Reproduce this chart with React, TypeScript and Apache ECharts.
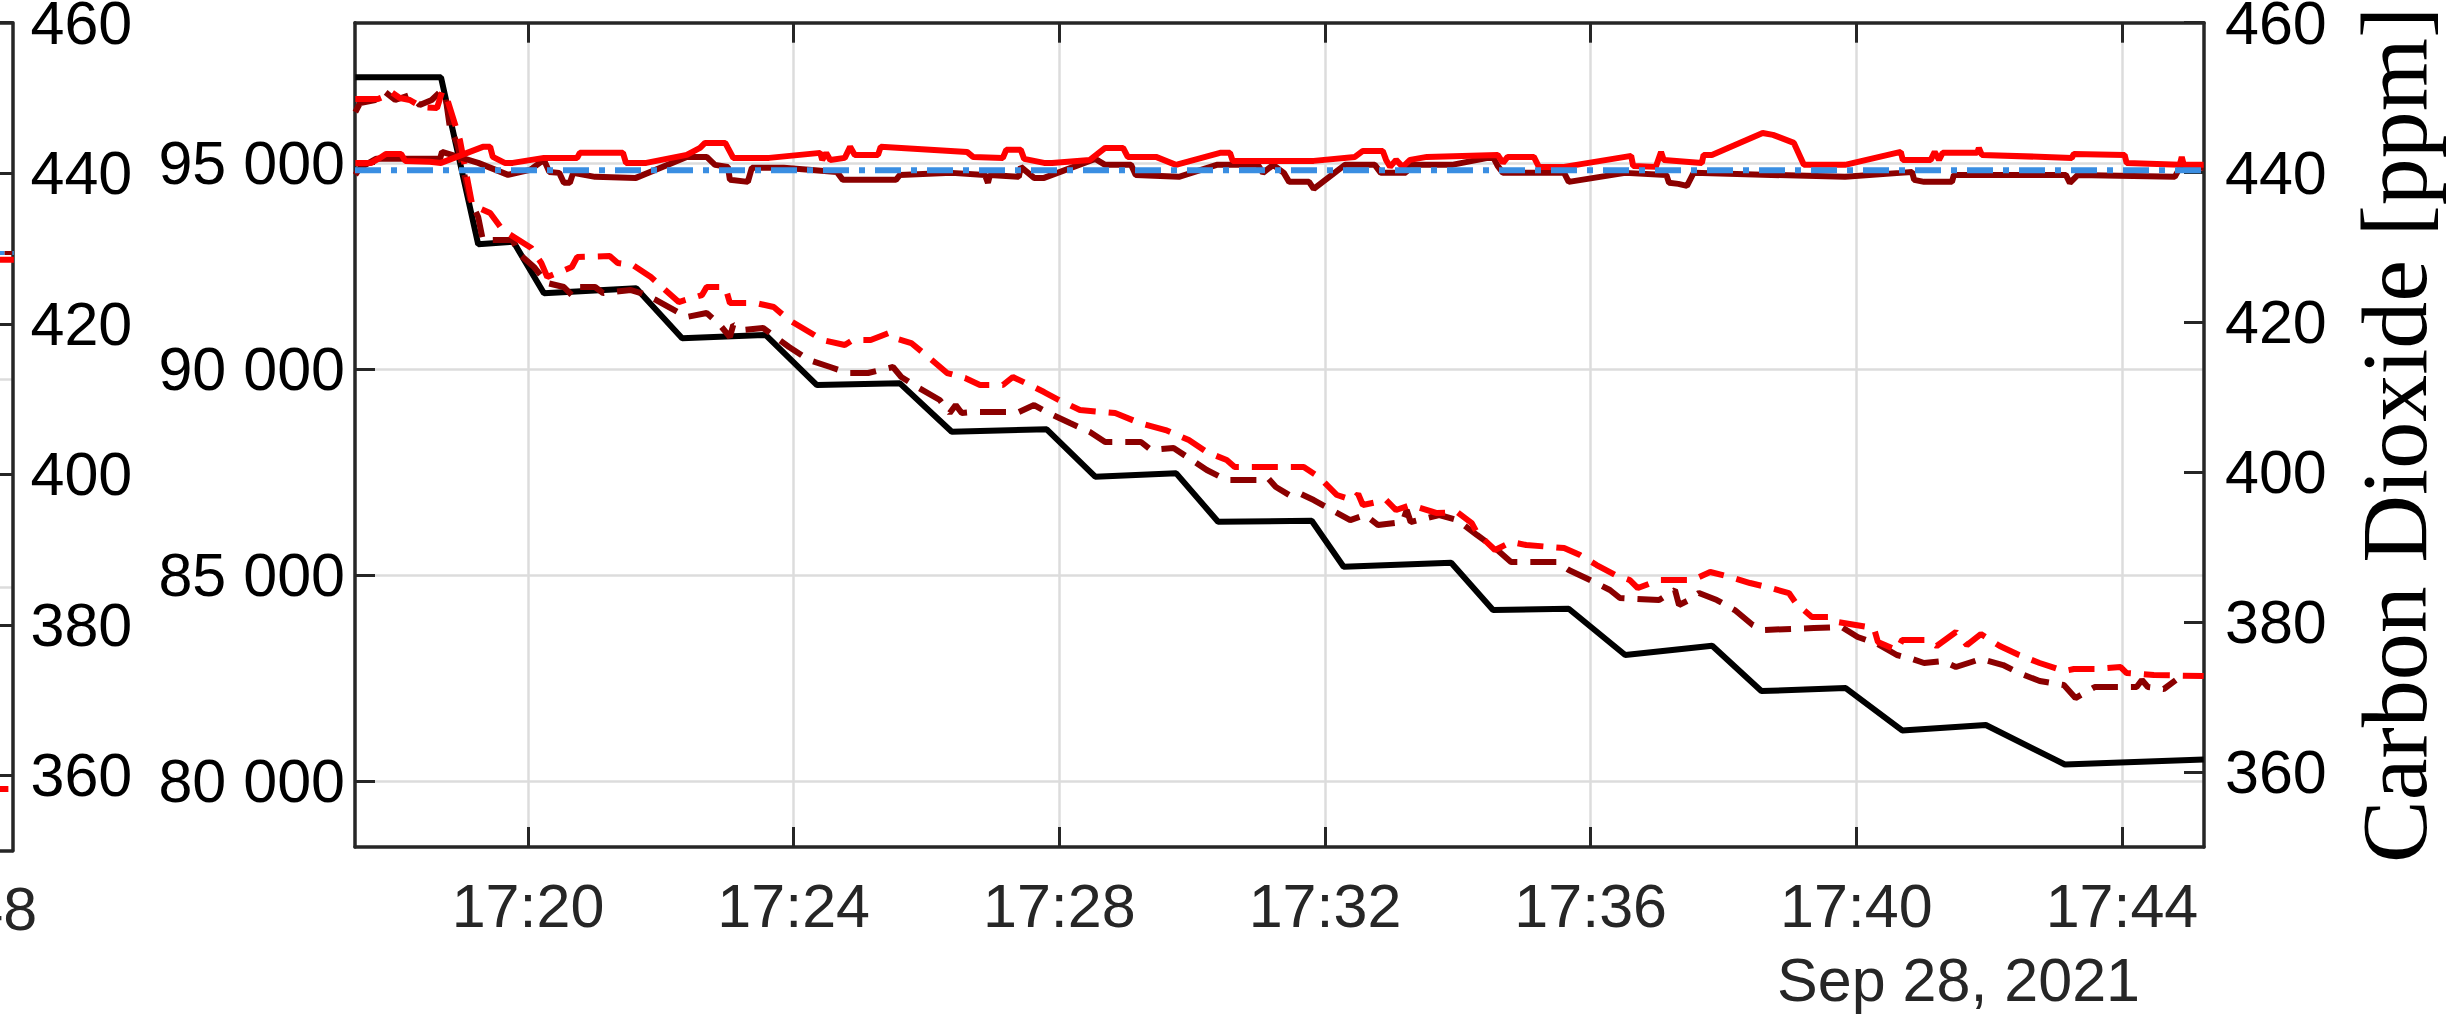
import React, { useEffect, useRef } from 'react';
import * as echarts from 'echarts';

// ---- axis ticks ----
const xTicks = [20, 24, 28, 32, 36, 40, 44]; // minutes after 17:00
const pressureTicks = [80000, 85000, 90000, 95000];
const co2Ticks = [360, 380, 400, 420, 440, 460];
const prevXTicks = [48];
const prevPressureTicks = [85000, 90000];
const dateLabel = 'Sep 28, 2021';
const co2Name = 'Carbon Dioxide [ppm]';

// ---- reference pressure (black solid) ----
const refTime = [17.40, 18.69, 19.25, 19.78, 20.24, 21.63, 22.32, 23.58, 24.35, 25.60, 26.38, 27.81, 28.54, 29.76, 30.39, 31.80, 32.28, 33.90, 34.53, 35.67, 36.52, 37.83, 38.57, 39.84, 40.69, 41.95, 43.14, 45.23];
const refPressure = [97074, 97074, 93023, 93086, 91834, 91955, 90742, 90822, 89609, 89650, 88476, 88534, 87384, 87466, 86292, 86316, 85200, 85297, 84150, 84181, 83058, 83283, 82184, 82257, 81228, 81359, 80403, 80522];

// ---- sensor A pressure (red dashed) ----
const aPTime = [17.40, 17.74, 17.85, 17.94, 18.07, 18.22, 18.40, 18.63, 18.705, 18.75, 18.975, 19.16, 19.43, 19.62, 20.05, 20.20, 20.29, 20.66, 20.74, 21.23, 21.35, 21.58, 21.85, 22.27, 22.62, 22.69, 22.97, 23.04, 23.43, 23.70, 23.93, 24.31, 24.43, 24.77, 24.89, 25.16, 25.43, 25.51, 25.77, 26.08, 26.31, 26.58, 26.805, 27.15, 27.30, 27.62, 27.77, 27.995, 28.31, 28.84, 29.21, 29.60, 29.95, 30.22, 30.52, 30.64, 31.68, 31.91, 32.18, 32.41, 32.50, 32.57, 32.92, 33.07, 33.29, 33.685, 33.99, 34.21, 34.29, 34.56, 34.80, 35.03, 35.60, 35.84, 36.09, 36.37, 36.59, 36.71, 37.03, 37.53, 37.80, 38.10, 38.40, 38.71, 38.985, 39.09, 39.33, 39.63, 39.72, 40.265, 40.325, 40.61, 40.69, 41.09, 41.21, 41.50, 41.665, 41.875, 42.16, 42.45, 42.76, 43.125, 43.275, 43.59, 43.98, 44.07, 44.48, 45.23];
const aPressure = [96548, 96548, 96621, 96718, 96572, 96524, 96354, 96330, 96718, 96718, 95553, 93976, 93782, 93370, 92933, 92569, 92229, 92472, 92714, 92739, 92569, 92520, 92229, 91623, 91792, 91987, 91987, 91598, 91598, 91501, 91186, 90822, 90701, 90579, 90701, 90701, 90870, 90749, 90628, 90215, 89900, 89779, 89609, 89609, 89803, 89560, 89439, 89245, 89002, 88929, 88687, 88517, 88274, 87983, 87789, 87619, 87619, 87376, 86940, 86818, 86964, 86697, 86818, 86576, 86697, 86503, 86527, 86260, 86018, 85605, 85800, 85727, 85654, 85484, 85241, 84999, 84877, 84683, 84877, 84877, 85072, 84950, 84805, 84683, 84562, 84319, 83980, 83980, 83858, 83713, 83373, 83179, 83422, 83422, 83276, 83616, 83300, 83567, 83276, 83058, 82864, 82670, 82718, 82718, 82767, 82621, 82572, 82548];

// ---- sensor B pressure (dark red dashed) ----
const bPTime = [17.40, 17.47, 17.70, 17.85, 18.00, 18.22, 18.37, 18.55, 18.675, 18.75, 18.825, 18.93, 19.13, 19.25, 19.32, 19.77, 19.85, 20.09, 20.29, 20.54, 20.66, 20.74, 21.01, 21.13, 21.55, 21.70, 21.93, 22.39, 22.69, 22.89, 23.04, 23.09, 23.24, 23.54, 23.93, 24.23, 24.55, 24.82, 25.12, 25.495, 25.62, 25.86, 26.20, 26.35, 26.44, 26.53, 26.70, 27.39, 27.62, 27.84, 28.16, 28.46, 28.69, 29.23, 29.38, 29.72, 29.995, 30.22, 30.52, 30.99, 31.14, 31.26, 31.46, 31.61, 31.83, 32.10, 32.38, 32.60, 32.80, 33.17, 33.23, 33.29, 33.72, 33.99, 34.29, 34.56, 34.80, 35.49, 35.67, 35.99, 36.29, 36.44, 37.03, 37.27, 37.33, 37.48, 37.63, 37.90, 38.17, 38.44, 38.59, 39.36, 39.78, 40.02, 40.325, 40.61, 40.84, 41.02, 41.30, 41.50, 41.875, 42.21, 42.45, 42.76, 43.125, 43.30, 43.59, 44.22, 44.30, 44.39, 44.63, 44.81];
const bPressure = [96233, 96451, 96524, 96718, 96524, 96645, 96402, 96524, 96718, 96694, 95844, 95480, 94097, 93685, 93127, 93127, 92811, 92472, 92084, 91987, 91792, 91987, 91987, 91841, 91914, 91841, 91671, 91259, 91356, 91065, 90773, 91065, 90943, 90992, 90531, 90215, 90046, 89900, 89900, 90046, 89803, 89560, 89245, 88929, 89123, 88929, 88954, 88954, 89123, 88929, 88687, 88468, 88226, 88226, 88032, 88080, 87789, 87546, 87304, 87304, 87352, 87134, 86940, 86988, 86818, 86576, 86333, 86455, 86212, 86285, 86576, 86285, 86455, 86333, 85969, 85654, 85314, 85314, 85120, 84877, 84635, 84441, 84392, 84635, 84271, 84392, 84562, 84392, 84150, 83786, 83664, 83713, 83737, 83495, 83325, 83058, 82961, 82864, 82912, 82767, 82961, 82815, 82621, 82427, 82330, 82014, 82281, 82281, 82451, 82281, 82233, 82451];

// ---- sensor A CO2 (red solid) ----
const aCTime = [17.40, 17.64, 17.77, 17.86, 18.09, 18.15, 18.52, 18.69, 19.32, 19.43, 19.47, 19.65, 19.77, 20.24, 20.74, 20.78, 21.43, 21.475, 21.78, 22.39, 22.59, 22.665, 22.97, 23.01, 23.09, 23.63, 24.40, 24.43, 24.49, 24.55, 24.77, 24.85, 24.92, 25.27, 25.31, 26.61, 26.70, 27.15, 27.20, 27.42, 27.47, 27.77, 27.89, 28.46, 28.69, 28.96, 29.03, 29.455, 29.755, 30.42, 30.57, 30.61, 31.83, 32.45, 32.57, 32.87, 32.92, 32.98, 33.07, 33.17, 33.28, 33.535, 34.60, 34.68, 34.75, 35.145, 35.22, 35.60, 36.61, 36.64, 36.98, 37.06, 37.10, 37.675, 37.70, 37.825, 38.59, 38.745, 39.06, 39.21, 39.83, 40.67, 40.70, 41.12, 41.18, 41.245, 41.30, 41.82, 41.845, 41.89, 43.245, 43.275, 44.04, 44.07, 44.87, 44.90, 44.93, 45.23];
const aCo2 = [441.29, 441.29, 441.96, 442.49, 442.49, 441.56, 441.43, 441.29, 443.43, 443.43, 442.09, 441.29, 441.29, 441.96, 441.96, 442.63, 442.63, 441.29, 441.29, 442.36, 443.29, 443.96, 443.96, 443.29, 441.96, 441.96, 442.63, 441.69, 442.63, 441.69, 441.96, 443.43, 442.36, 442.36, 443.43, 442.76, 442.09, 441.96, 443.03, 443.03, 441.83, 441.29, 441.29, 441.69, 443.29, 443.29, 442.09, 442.09, 441.03, 442.63, 442.63, 441.56, 441.56, 442.09, 442.89, 442.89, 441.69, 440.76, 441.69, 440.76, 441.69, 442.09, 442.36, 441.29, 442.09, 442.09, 440.76, 440.76, 442.23, 440.89, 440.76, 442.76, 441.69, 441.29, 442.36, 442.36, 445.29, 445.03, 443.96, 441.03, 441.03, 442.76, 441.69, 441.69, 442.76, 441.69, 442.63, 442.63, 443.29, 442.36, 441.96, 442.49, 442.36, 441.29, 441.03, 442.09, 441.03, 441.03];

// ---- sensor B CO2 (dark red solid) ----
const bCTime = [17.40, 17.47, 17.71, 18.675, 18.705, 19.25, 19.70, 20.03, 20.24, 20.32, 20.47, 20.54, 20.63, 20.68, 21.01, 21.625, 22.39, 22.69, 22.815, 23.01, 23.04, 23.31, 23.37, 23.85, 24.65, 24.74, 25.54, 25.60, 26.38, 26.88, 26.925, 26.955, 27.39, 27.42, 27.62, 27.77, 28.54, 28.69, 29.08, 29.15, 29.80, 30.37, 30.99, 31.065, 31.22, 31.38, 31.46, 31.76, 31.83, 32.30, 32.75, 32.84, 33.22, 33.25, 33.91, 34.53, 34.60, 34.68, 35.60, 35.67, 36.52, 37.14, 37.18, 37.32, 37.45, 37.55, 39.83, 40.66, 40.84, 40.87, 41.02, 41.44, 41.47, 43.155, 43.215, 43.335, 44.795, 44.87, 45.23];
const bCo2 = [439.69, 440.63, 441.83, 441.83, 442.76, 441.29, 439.69, 440.36, 441.69, 440.09, 439.96, 438.63, 438.63, 439.96, 439.43, 439.29, 442.09, 442.09, 441.03, 440.76, 439.03, 438.76, 440.63, 440.63, 440.09, 439.03, 439.03, 439.69, 439.96, 439.69, 438.63, 439.69, 439.43, 440.76, 439.29, 439.29, 441.83, 441.03, 441.03, 439.69, 439.43, 441.03, 441.03, 439.96, 441.03, 439.96, 438.76, 438.76, 437.83, 441.03, 441.03, 439.96, 439.96, 441.03, 441.03, 442.09, 440.89, 439.96, 439.96, 438.76, 439.96, 439.69, 438.63, 438.49, 438.23, 439.96, 439.43, 439.96, 440.09, 439.03, 438.76, 438.76, 439.69, 439.69, 438.63, 439.69, 439.43, 440.63, 440.63];

// ---- reference CO2 (blue dash-dot) ----
const refCTime = [17.395, 45.235];
const refCo2 = [440.3, 440.3];

// ---- previous panel (cut off at the left edge) ----
const prevTime = [44.8, 48.8];
const prevRedCo2 = [428.5, 428.5];
const prevDarkCo2 = [429.4, 429.4];
const prevRefCo2 = [429.4, 429.4];
const prevRedLow = [358.2, 358.2];

const zip = (xs: number[], ys: number[]) => xs.map((x, i) => [x, ys[i]]);

const SANS = "'Liberation Sans', Arial, Helvetica, sans-serif";
const SERIF = "'Liberation Serif', 'Times New Roman', serif";
const AX = '#262626';
const GRID = '#dcdcdc';
const RED = '#ff0000';
const DARK = '#8b0000';
const BLUE = '#3a8ee2';
const FS = 61;

const fmtTime = (v: number) => `17:${String(Math.round(v)).padStart(2, '0')}`;
const fmtThousands = (v: number) => String(Math.round(v)).replace(/\B(?=(\d{3})+(?!\d))/g, ' ');

export default function App() {
  const ref = useRef<HTMLDivElement>(null);
  useEffect(() => {
    if (!ref.current) return;
    const chart = echarts.init(ref.current, undefined, { renderer: 'svg' });
    const axisLine = { show: true, onZero: false, lineStyle: { color: AX, width: 3.5 } };
    const tick = (vals: number[], show = true) => ({
      show, inside: true, length: 20, customValues: vals, lineStyle: { color: AX, width: 3 },
    });
    const option: any = {
      animation: false,
      backgroundColor: '#ffffff',
      grid: [
        { left: 355, top: 22.7, width: 1849, height: 824.3, containLabel: false, outerBoundsMode: 'none' },
        { left: -600, top: 22.7, width: 612.5, height: 828, containLabel: false, outerBoundsMode: 'none' },
      ],
      xAxis: [
        {
          type: 'value', gridIndex: 0, position: 'bottom', min: 17.395, max: 45.235,
          axisLine, axisTick: tick(xTicks),
          axisLabel: { customValues: xTicks, formatter: fmtTime, margin: 28, fontSize: FS, fontFamily: SANS, color: AX },
          splitLine: { show: true, lineStyle: { color: GRID, width: 2.5 } },
        },
        {
          type: 'value', gridIndex: 0, position: 'top', min: 17.395, max: 45.235,
          axisLine, axisTick: tick(xTicks), axisLabel: { show: false }, splitLine: { show: false },
        },
        {
          type: 'value', gridIndex: 1, position: 'bottom', min: 39.55, max: 48.78,
          axisLine, axisTick: tick(prevXTicks),
          axisLabel: { customValues: prevXTicks, formatter: fmtTime, margin: 28, fontSize: FS, fontFamily: SANS, color: AX },
          splitLine: { show: false },
        },
        {
          type: 'value', gridIndex: 1, position: 'top', min: 39.55, max: 48.78,
          axisLine, axisTick: { show: false }, axisLabel: { show: false }, splitLine: { show: false },
        },
      ],
      yAxis: [
        {
          type: 'value', gridIndex: 0, position: 'left', min: 78400, max: 98400,
          axisLine, axisTick: tick(pressureTicks),
          axisLabel: { customValues: pressureTicks, formatter: fmtThousands, margin: 10, fontSize: FS, lineHeight: 44, fontFamily: SANS, color: '#000' },
          splitLine: { show: true, lineStyle: { color: GRID, width: 2.5 } },
        },
        {
          type: 'value', gridIndex: 0, position: 'right', min: 350, max: 460,
          axisLine, axisTick: tick(co2Ticks),
          axisLabel: { customValues: co2Ticks, margin: 21, fontSize: FS, lineHeight: 44, fontFamily: SANS, color: '#000' },
          splitLine: { show: false },
          name: co2Name, nameLocation: 'middle', nameGap: 143, nameMoveOverlap: false,
          nameTextStyle: { fontFamily: SERIF, fontSize: 94, color: '#000' },
        },
        {
          type: 'value', gridIndex: 1, position: 'left', min: 78700, max: 98530,
          axisLine: { show: false }, axisTick: { show: false, customValues: prevPressureTicks },
          axisLabel: { show: false, customValues: prevPressureTicks },
          splitLine: { show: true, lineStyle: { color: GRID, width: 2.5 } },
        },
        {
          type: 'value', gridIndex: 1, position: 'right', min: 350, max: 460,
          axisLine, axisTick: tick(co2Ticks),
          axisLabel: { customValues: co2Ticks, margin: 18, fontSize: FS, lineHeight: 44, fontFamily: SANS, color: '#000' },
          splitLine: { show: false },
        },
      ],
      series: [
        { type: 'line', xAxisIndex: 0, yAxisIndex: 0, data: zip(refTime, refPressure), showSymbol: false, symbol: 'none', lineStyle: { color: '#000', width: 6 } },
        { type: 'line', xAxisIndex: 0, yAxisIndex: 0, data: zip(bPTime, bPressure), showSymbol: false, symbol: 'none', lineStyle: { color: DARK, width: 6, type: [26, 13] } },
        { type: 'line', xAxisIndex: 0, yAxisIndex: 0, data: zip(aPTime, aPressure), showSymbol: false, symbol: 'none', lineStyle: { color: RED, width: 6, type: [26, 13] } },
        { type: 'line', xAxisIndex: 0, yAxisIndex: 1, data: zip(bCTime, bCo2), showSymbol: false, symbol: 'none', lineStyle: { color: DARK, width: 6 } },
        { type: 'line', xAxisIndex: 0, yAxisIndex: 1, data: zip(aCTime, aCo2), showSymbol: false, symbol: 'none', lineStyle: { color: RED, width: 6 } },
        { type: 'line', xAxisIndex: 0, yAxisIndex: 1, data: zip(refCTime, refCo2), showSymbol: false, symbol: 'none', lineStyle: { color: BLUE, width: 6, type: [26, 10, 6, 10] } },
        { type: 'line', xAxisIndex: 2, yAxisIndex: 3, data: zip(prevTime, prevRedCo2), showSymbol: false, symbol: 'none', lineStyle: { color: RED, width: 6 } },
        { type: 'line', xAxisIndex: 2, yAxisIndex: 3, data: zip(prevTime, prevDarkCo2), showSymbol: false, symbol: 'none', lineStyle: { color: DARK, width: 4, type: [8, 8] } },
        { type: 'line', xAxisIndex: 2, yAxisIndex: 3, data: zip(prevTime, prevRefCo2), showSymbol: false, symbol: 'none', lineStyle: { color: BLUE, width: 4, type: [8, 8], dashOffset: 8 } },
        { type: 'line', xAxisIndex: 2, yAxisIndex: 3, data: zip(prevTime, prevRedLow), showSymbol: false, symbol: 'none', lineStyle: { color: RED, width: 6, type: [26, 13] } },
      ],
      graphic: [
        {
          type: 'text', x: 2140, y: 980,
          style: { text: dateLabel, align: 'right', verticalAlign: 'middle', fontSize: FS, fontFamily: SANS, fill: AX },
        },
      ],
    };
    chart.setOption(option);
    return () => chart.dispose();
  }, []);
  return (
    <div
      ref={ref}
      style={{ position: 'fixed', left: 0, top: 0, width: 2462, height: 1023, background: '#fff' }}
    />
  );
}
